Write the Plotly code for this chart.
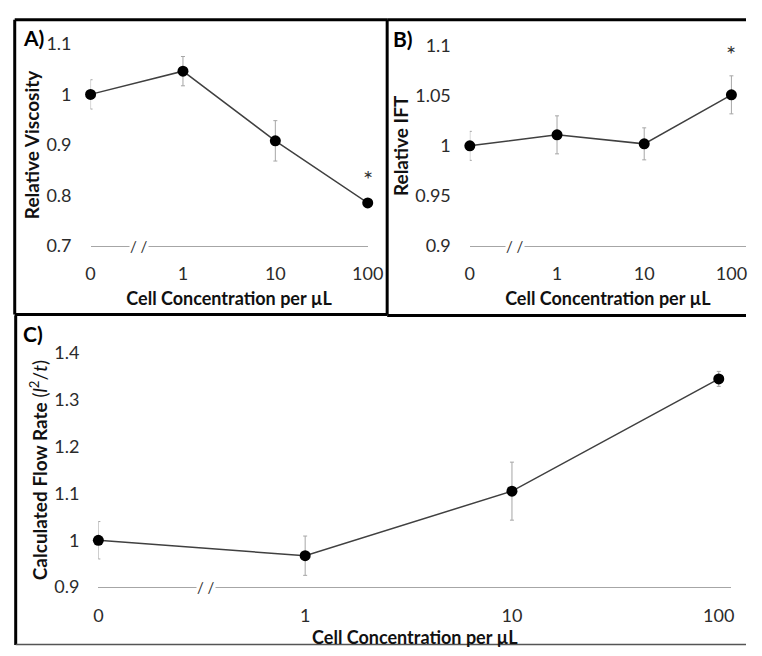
import plotly.graph_objects as go

W, H = 762, 656

categories = ["0", "1", "10", "100"]

visc = [1.0, 1.046, 0.908, 0.785]
visc_err = [0.029, 0.029, 0.040, 0.004]
visc_sig = [False, False, False, True]

ift = [1.0, 1.011, 1.002, 1.051]
ift_err = [0.0145, 0.019, 0.016, 0.019]
ift_sig = [False, False, False, True]

flow = [1.0, 0.967, 1.105, 1.345]
flow_err = [0.040, 0.042, 0.062, 0.016]

ticks_a = [0.7, 0.8, 0.9, 1.0, 1.1]
ticks_b = [0.9, 0.95, 1.0, 1.05, 1.1]
ticks_c = [0.9, 1.0, 1.1, 1.2, 1.3, 1.4]


def px_x(p):
    return min(max(p / W, 0.0), 1.0)


def px_y(p):
    return min(max(1 - p / H, 0.0), 1.0)


FONT = "Lato"
TICK_COLOR = "#2b2b2b"
TITLE_COLOR = "#111111"

fig = go.Figure()
xs = list(range(len(categories)))

panels = [
    ("x", "y", visc, visc_err),
    ("x2", "y2", ift, ift_err),
    ("x3", "y3", flow, flow_err),
]
for xa, ya, vals, errs in panels:
    fig.add_trace(go.Scatter(
        x=xs, y=vals, xaxis=xa, yaxis=ya, mode="lines+markers",
        line=dict(color="#404040", width=1.5),
        marker=dict(color="black", size=11),
        error_y=dict(type="data", array=errs, visible=True, color="#a6a6a6",
                     thickness=1, width=2),
        cliponaxis=False, showlegend=False, hoverinfo="skip",
    ))


def fmt(v):
    return f"{v:g}"


def xaxis_cfg(domain, rng, standoff):
    return dict(
        domain=domain, range=rng, tickvals=xs, ticktext=categories,
        showgrid=False, zeroline=False, showline=True, linecolor="#a6a6a6",
        linewidth=1, ticks="", ticklabelstandoff=12,
        tickfont=dict(family=FONT, size=18, color=TICK_COLOR),
        title=dict(text="<b>Cell Concentration per µL</b>", standoff=standoff,
                   font=dict(family=FONT, size=18, color=TITLE_COLOR)),
        fixedrange=True,
    )


def yaxis_cfg(domain, tv, anchor, title, size):
    return dict(
        domain=domain, range=[tv[0], tv[-1]], tickvals=tv,
        ticktext=[fmt(v) for v in tv], anchor=anchor,
        showgrid=False, zeroline=False, showline=False, ticks="",
        ticklabelstandoff=18,
        tickfont=dict(family=FONT, size=18, color=TICK_COLOR),
        title=dict(text=title, standoff=1,
                   font=dict(family=FONT, size=size, color=TITLE_COLOR)),
        fixedrange=True,
    )


fig.update_layout(
    width=W, height=H, margin=dict(l=0, r=0, t=0, b=0),
    paper_bgcolor="white", plot_bgcolor="white",
    xaxis=dict(xaxis_cfg([px_x(88), px_x(373)], [0, 3], 8), anchor="y"),
    yaxis=yaxis_cfg([px_y(242), px_y(33)], ticks_a, "x", "<b>Relative Viscosity</b>", 19),
    xaxis2=dict(xaxis_cfg([px_x(478), 1.0], [0, 3 + 15 / 89.7], 8), anchor="y2"),
    yaxis2=yaxis_cfg([px_y(242), px_y(35)], ticks_b, "x2", "<b>Relative IFT</b>", 19),
    xaxis3=dict(xaxis_cfg([px_x(96), px_x(747)], [0, 3 + 13 / 212.7], 0), anchor="y3"),
    yaxis3=yaxis_cfg([px_y(595), px_y(353)], ticks_c, "x3",
                     "<b>Calculated Flow Rate</b> (<i>l</i><sup>2</sup>/<i>t</i>)", 19),
)

# significance asterisks
for xa, ya, vals, errs, sig in [("x", "y", visc, visc_err, visc_sig),
                                 ("x2", "y2", ift, ift_err, ift_sig)]:
    for i, s in enumerate(sig):
        if s:
            fig.add_annotation(x=xs[i], y=vals[i] + errs[i], xref=xa, yref=ya,
                               text="*", showarrow=False, yanchor="bottom", yshift=6,
                               font=dict(family=FONT, size=24, color="#333333"))

# axis break marks
for xa, ya, lo in [("x", "y", ticks_a[0]), ("x2", "y2", ticks_b[0]), ("x3", "y3", ticks_c[0])]:
    fig.add_annotation(x=0.52, y=lo, xref=xa, yref=ya, text="/ /", showarrow=False,
                       bgcolor="white", borderpad=0,
                       font=dict(family=FONT, size=15, color="#333333"))

# panel labels
for label, x, y in [("A)", 16, 26), ("B)", 397, 27), ("C)", 16, 333)]:
    fig.add_annotation(x=px_x(x), y=px_y(y), xref="paper", yref="paper",
                       text=f"<b>{label}</b>", showarrow=False, xanchor="left",
                       yanchor="middle",
                       font=dict(family=FONT, size=21, color="black"))

# panel borders (drawn as separate edges, all inside the page)
border = dict(color="black", width=3)
edges = [
    (10, 8, 393, 8), (10, 8, 10, 313), (10, 313, 393, 313), (393, 8, 393, 313),  # A
    (393, 8, 762, 8), (393, 314, 762, 314),                                      # B
    (11, 314, 11, 655),                                                          # C
]
for x0, y0, x1, y1 in edges:
    fig.add_shape(type="line", xref="paper", yref="paper",
                  x0=px_x(x0), y0=px_y(y0), x1=px_x(x1), y1=px_y(y1), line=border)
fig.add_shape(type="line", xref="paper", yref="paper", x0=px_x(11), y0=px_y(654.5),
              x1=1.0, y1=px_y(654.5), line=dict(color="#555555", width=1.5))

fig.write_html("out.html", config={"displayModeBar": False},
               post_script="document.body.style.margin='0';")
